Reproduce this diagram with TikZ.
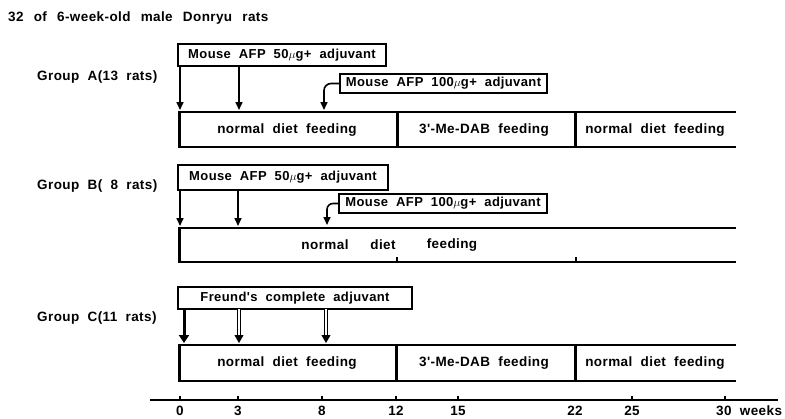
\documentclass[tikz,border=0pt]{standalone}
\usepackage{fontspec}
\usetikzlibrary{arrows.meta,calc}
\newfontfamily\labfont[WordSpace=2.0,LetterSpace=3]{Liberation Sans}
\newcommand{\lab}{\labfont\bfseries\fontsize{13.5}{15}\selectfont}
\newcommand{\boxlab}{\labfont\bfseries\fontsize{13}{15}\selectfont}
\newcommand{\tsp}{\hspace{10.2pt}}
\tikzset{
  lbl/.style={font=\lab, inner sep=0pt},
  abox/.style={draw, line width=1.3pt, inner sep=0pt, font=\boxlab},
  barline/.style={line width=2.6pt},
  divline/.style={line width=3pt},
  arr/.style={line width=1.6pt, -{Triangle[width=7pt,length=8pt]}},
  bigarr/.style={line width=3pt, -{Triangle[width=10pt,length=8pt]}},
  dblshaft/.style={line width=0.8pt, double distance=2pt},
  headarr/.style={line width=0.8pt, -{Triangle[width=9pt,length=8pt]}},
  tickl/.style={line width=2pt},
}
\begin{document}
\begin{tikzpicture}[x=1pt,y=-1pt]
\useasboundingbox (0,0) rectangle (785,418);

% title and group labels
\node[lbl, anchor=west] (title) at (8,18) {32\tsp of\tsp 6-week-old\tsp male\tsp Donryu\tsp rats};
\node[lbl, anchor=west] (gA) at (37,77) {Group A(13 rats)};
\node[lbl, anchor=west] (gB) at (37,186) {Group B( 8 rats)};
\node[lbl, anchor=west] (gC) at (37,318) {Group C(11 rats)};

% ---------------- Group A ----------------
\node[abox, minimum width=208pt, minimum height=22pt] (a50) at (282,55) {Mouse AFP 50$\mu$g+ adjuvant};
\node[abox, minimum width=207pt, minimum height=19pt] (a100) at (443.5,83.5) {Mouse AFP 100$\mu$g+ adjuvant};
\draw[barline] (178,112) -- (736,112);
\draw[barline] (178,147) -- (736,147);
\draw[divline] (179,111) -- (179,148);
\draw[divline] (397,111) -- (397,148);
\draw[divline] (575,111) -- (575,148);
\node[lbl] (tA1) at (287,130) {normal diet feeding};
\node[lbl] (tA2) at (484,130) {3'-Me-DAB feeding};
\node[lbl] (tA3) at (655,130) {normal diet feeding};
\coordinate (a0s) at (180,66);  \coordinate (a0e) at (180,110);
\coordinate (a3s) at (239,66);  \coordinate (a3e) at (239,110);
\coordinate (a8e) at (324,110);
\draw[arr] (a0s) -- (a0e);
\draw[arr] (a3s) -- (a3e);
\draw[arr, rounded corners=7pt] (a100.west) -| (a8e);

% ---------------- Group B ----------------
\node[abox, minimum width=210pt, minimum height=25pt] (b50) at (283,177.5) {Mouse AFP 50$\mu$g+ adjuvant};
\node[abox, minimum width=208pt, minimum height=19pt] (b100) at (443,203.5) {Mouse AFP 100$\mu$g+ adjuvant};
\draw[barline] (178,228) -- (736,228);
\draw[barline] (178,262) -- (736,262);
\draw[divline] (179,227) -- (179,263);
\draw[tickl] (397,262) -- (397,257);
\draw[tickl] (576,262) -- (576,257);
\node[lbl] (tB1) at (325,245) {normal};
\node[lbl] (tB2) at (383,245) {diet};
\node[lbl] (tB3) at (452,245) {feeding};
\coordinate (b0s) at (180,190);  \coordinate (b0e) at (180,226);
\coordinate (b3s) at (238,190);  \coordinate (b3e) at (238,226);
\coordinate (b8e) at (327,225);
\draw[arr] (b0s) -- (b0e);
\draw[arr] (b3s) -- (b3e);
\draw[arr, rounded corners=6pt] (b100.west) -| (b8e);

% ---------------- Group C ----------------
\node[abox, minimum width=234pt, minimum height=22pt] (cF) at (295,298) {Freund's complete adjuvant};
\draw[barline] (178,345) -- (736,345);
\draw[barline] (178,381) -- (736,381);
\draw[divline] (179,344) -- (179,382);
\draw[divline] (396,344) -- (396,382);
\draw[divline] (575,344) -- (575,382);
\node[lbl] (tC1) at (287,363) {normal diet feeding};
\node[lbl] (tC2) at (484,363) {3'-Me-DAB feeding};
\node[lbl] (tC3) at (655,363) {normal diet feeding};
\coordinate (c0s) at (184,309);  \coordinate (c0e) at (184,343);
\coordinate (c3s) at (239,309);  \coordinate (c3e) at (239,343);
\coordinate (c8s) at (326,309);  \coordinate (c8e) at (326,343);
\draw[bigarr] (c0s) -- (c0e);
\draw[dblshaft] (c3s) -- ($(c3e)+(0,-7)$);
\draw[headarr] ($(c3e)+(0,-8)$) -- (c3e);
\draw[dblshaft] (c8s) -- ($(c8e)+(0,-7)$);
\draw[headarr] ($(c8e)+(0,-8)$) -- (c8e);

% ---------------- time axis ----------------
\coordinate (ax0) at (150,400);
\coordinate (ax1) at (778,400);
\draw[line width=2pt] (ax0) -- (ax1);
\foreach \xx in {180,238,322,396,458,632,725}
  \draw[tickl] (\xx,400) -- (\xx,395.5);
\node[lbl] (w0) at (180,411) {0};
\node[lbl] (w3) at (238,411) {3};
\node[lbl] (w8) at (322,411) {8};
\node[lbl] (w12) at (396,411) {12};
\node[lbl] (w15) at (458,411) {15};
\node[lbl] (w22) at (575,411) {22};
\node[lbl] (w25) at (632,411) {25};
\node[lbl, anchor=west] (w30) at (716,411) {30 weeks};
\end{tikzpicture}
\end{document}
